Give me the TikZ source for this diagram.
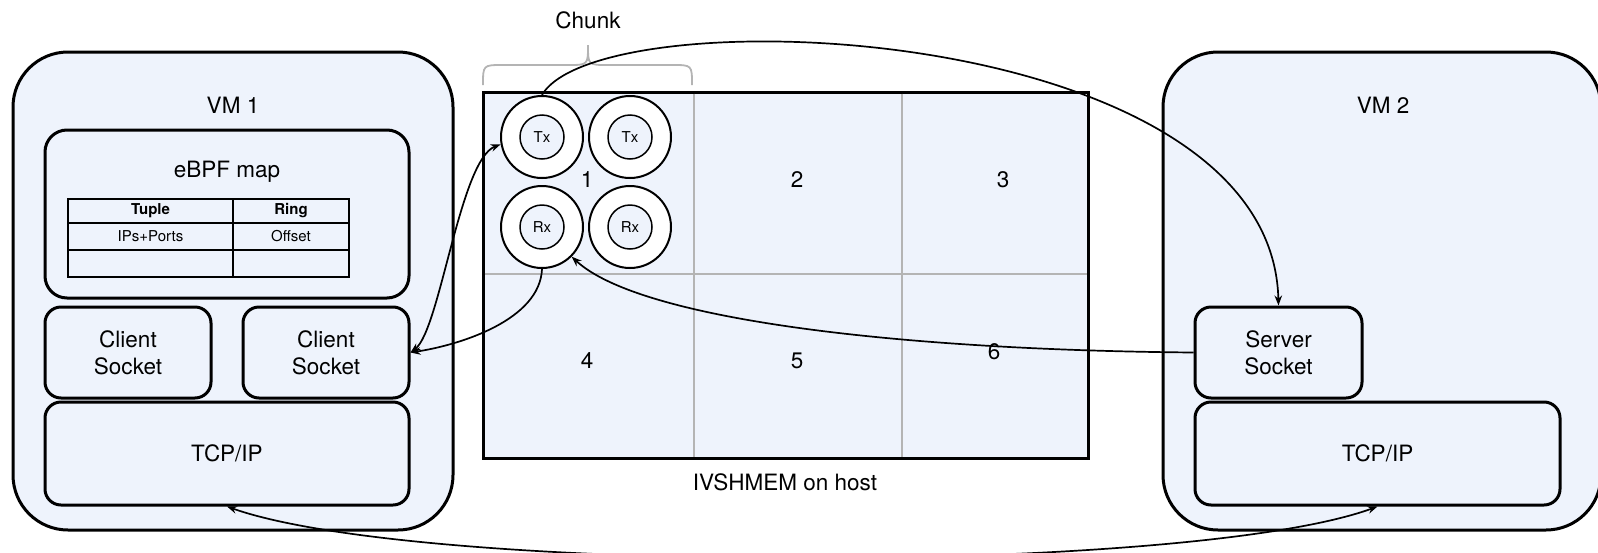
\documentclass[tikz,border=0pt]{standalone}
\usepackage{fontspec}
\setmainfont{TeX Gyre Heros}
\usetikzlibrary{arrows.meta}
\definecolor{pane}{RGB}{238,243,252}
\definecolor{rule}{RGB}{180,180,180}
\begin{document}
\begin{tikzpicture}[x=1pt,y=-1pt,
  lbl/.style={font=\fontsize{22.5}{27}\selectfont, inner sep=0pt},
  cell/.style={font=\fontsize{15}{18}\selectfont, inner sep=0pt},
  box/.style={draw, line width=3pt, fill=pane, rounded corners=#1, inner sep=0pt,
    align=center, font=\fontsize{22.5}{27}\selectfont},
  box/.default=16pt,
  ring/.style={circle, draw, line width=2pt, fill=white, minimum size=82pt, inner sep=0pt},
  core/.style={circle, draw, line width=1.5pt, fill=pane, minimum size=44pt, inner sep=0pt,
    font=\fontsize{15}{18}\selectfont},
  tip/.style={Stealth[length=10pt,width=7.5pt]},
  arr/.style={line width=1.7pt, -{Stealth[length=10pt,width=7.5pt]}},
  biarr/.style={line width=1.7pt, {Stealth[length=10pt,width=7.5pt]}-{Stealth[length=10pt,width=7.5pt]}},
  grid line/.style={draw=rule, line width=2pt},
]
\clip (0,0) rectangle (1598,552);

% ---------- VM 1 ----------
\node[box=55pt, minimum width=440pt, minimum height=478pt] (vm1) at (233,291) {};
\node[lbl] (vm1lbl) at (233,105) {VM 1};
\node[box=22pt, minimum width=364pt, minimum height=168pt] (map) at (227,214) {};
\node[lbl] (maplbl) at (227,172) {eBPF map};

% map table
\draw[line width=1.5pt] (68,199) rectangle (349,277);
\draw[line width=1.5pt] (68,223) -- (349,223) (68,250) -- (349,250) (233,199) -- (233,277);
\node[cell, font=\fontsize{15}{18}\selectfont\bfseries] (thtuple) at (150.5,211) {Tuple};
\node[cell, font=\fontsize{15}{18}\selectfont\bfseries] (thring) at (291,211) {Ring};
\node[cell] (tdtuple) at (150.5,236.5) {IPs+Ports};
\node[cell] (tdring) at (291,236.5) {Offset};

\node[box, minimum width=166pt, minimum height=91pt] (cs1) at (128,352.5) {Client\\Socket};
\node[box, minimum width=166pt, minimum height=91pt] (cs2) at (326,352.5) {Client\\Socket};
\node[box, minimum width=364pt, minimum height=103pt] (tcp1) at (227,453.5) {TCP/IP};

% ---------- VM 2 ----------
\node[box=55pt, minimum width=438pt, minimum height=478pt] (vm2) at (1382,291) {};
\node[lbl] (vm2lbl) at (1383,105) {VM 2};
\node[box, minimum width=167pt, minimum height=91pt] (ss) at (1278.5,352.5) {Server\\Socket};
\node[box, minimum width=365pt, minimum height=103pt] (tcp2) at (1377.5,453.5) {TCP/IP};

% ---------- shared memory on the host ----------
\node[draw, line width=3pt, fill=pane, minimum width=605pt, minimum height=366pt, inner sep=0pt]
  (shm) at (785.5,275) {};
\draw[grid line] (694,93.5) -- (694,456.5) (902,93.5) -- (902,456.5) (484.5,274) -- (1086.5,274);
\node[lbl] (n1) at (587,180) {1};
\node[lbl] (n2) at (797,180) {2};
\node[lbl] (n3) at (1003,180) {3};
\node[lbl] (n4) at (587,361) {4};
\node[lbl] (n5) at (797,361) {5};
\node[lbl] (n6) at (994,352) {6};
\node[lbl] (shmlbl) at (785,482) {IVSHMEM on host};

% rings of chunk 1
\node[ring] (tx1) at (542,137) {};
\node[core] (tx1c) at (tx1) {Tx};
\node[ring] (tx2) at (630,137) {};
\node[core] (tx2c) at (tx2) {Tx};
\node[ring] (rx1) at (542,227) {};
\node[core] (rx1c) at (rx1) {Rx};
\node[ring] (rx2) at (630,227) {};
\node[core] (rx2c) at (rx2) {Rx};

% chunk brace
\draw[draw=rule, line width=1.8pt]
  (483,85) .. controls (483,65) .. (503,65) -- (568,65)
  .. controls (588,65) .. (588,45)
  .. controls (588,65) .. (608,65) -- (672,65)
  .. controls (692,65) .. (692,85);
\node[lbl] (chunklbl) at (588,20) {Chunk};

% ---------- connectors ----------
\draw[arr] (tx1.north) .. controls (600,-5) and (1272,20) .. (ss.north);
\draw[biarr] (cs2.east) .. controls (440,330) and (460,160) .. (tx1.190);
\draw[arr] (rx1.south) .. controls (540,320) and (460,345) .. (cs2.east);
\draw[arr] (ss.west) .. controls (900,350) and (640,320) .. (rx1.-45);
\draw[biarr] (tcp1.south) .. controls (420,575) and (1190,575) .. (tcp2.south);
\end{tikzpicture}
\end{document}
